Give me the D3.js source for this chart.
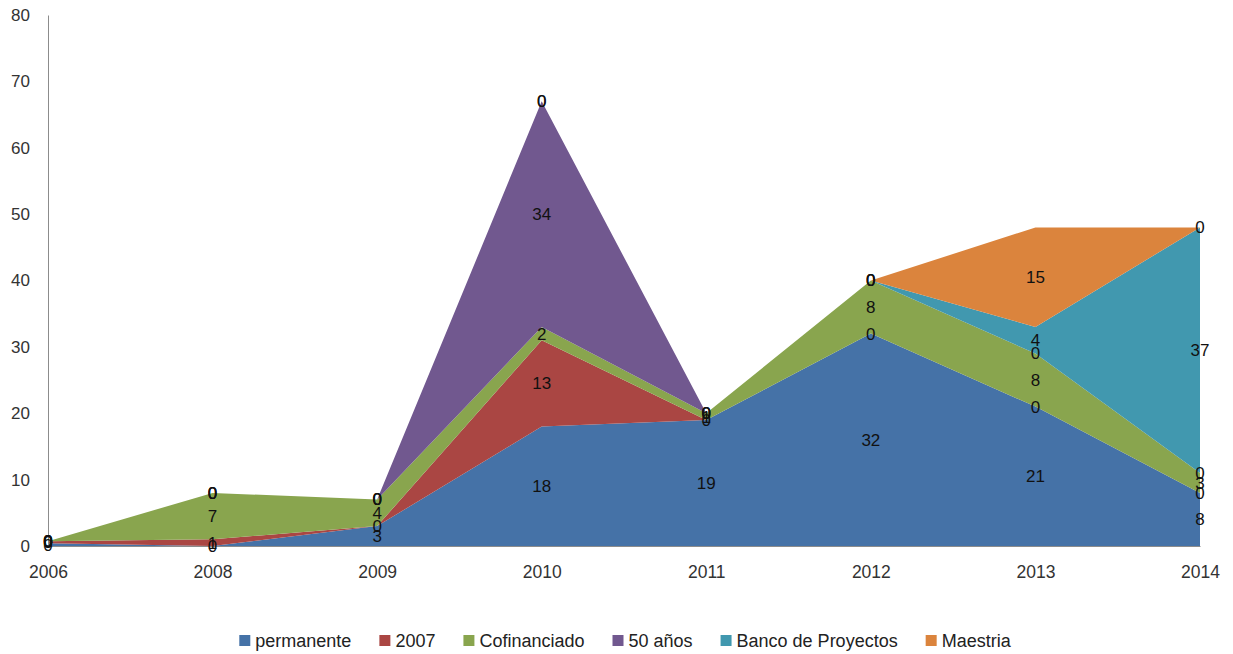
<!DOCTYPE html>
<html>
<head>
<meta charset="utf-8">
<script src="https://cdn.jsdelivr.net/npm/d3@7"></script>
<style>
  body { margin: 0; background: #fff; }
  svg { font-family: "Liberation Sans", Arial, sans-serif; }
</style>
</head>
<body>
<div id="chart"></div>
<script>
// values
var years = ["2006", "2008", "2009", "2010", "2011", "2012", "2013", "2014"];
var permanente   = [0.4, 0, 3, 18, 19, 32, 21, 8];
var anio2007     = [0.3, 1, 0, 13, 0, 0, 0, 0];
var cofinanciado = [0, 7, 4, 2, 1, 8, 8, 3];
var cincuenta    = [0, 0, 0, 34, 0, 0, 0, 0];
var banco        = [0, 0, 0, 0, 0, 0, 4, 37];
var maestria     = [0, 0, 0, 0, 0, 0, 15, 0];
var yTicks = [0, 10, 20, 30, 40, 50, 60, 70, 80];

var seriesNames = ["permanente", "2007", "Cofinanciado", "50 años", "Banco de Proyectos", "Maestria"];
var seriesValues = [permanente, anio2007, cofinanciado, cincuenta, banco, maestria];
var colors = ["#4572A7", "#AA4643", "#89A54E", "#71588F", "#4198AF", "#DB843D"];

var width = 1233, height = 654;

var table = years.map(function(y, i) {
  var row = { year: y };
  seriesNames.forEach(function(n, j) { row[n] = seriesValues[j][i]; });
  return row;
});

var stack = d3.stack().keys(seriesNames);
var layers = stack(table);

var x = d3.scalePoint()
    .domain(years)
    .range([48, 1200]);

var y = d3.scaleLinear()
    .domain([0, 80])
    .range([546, 15]);

var svg = d3.select("#chart")
    .append("svg")
    .attr("width", width)
    .attr("height", height);

var area = d3.area()
    .x(function(d) { return x(d.data.year); })
    .y0(function(d) { return y(d[0]); })
    .y1(function(d) { return y(d[1]); });

svg.selectAll(".layer")
    .data(layers)
    .enter()
    .append("path")
    .attr("class", "layer")
    .attr("d", area)
    .style("fill", function(d, i) { return colors[i]; })
    .style("stroke", "none");

// axes
var yAxis = svg.append("g")
    .attr("transform", "translate(48,0)")
    .call(d3.axisLeft(y).tickValues(yTicks).tickSize(0).tickPadding(18));
yAxis.select(".domain").attr("stroke", "#8c8c8c");
yAxis.selectAll("text")
    .attr("font-size", 17)
    .attr("fill", "#333");

var xAxis = svg.append("g")
    .attr("transform", "translate(0,546)")
    .call(d3.axisBottom(x).tickSize(0).tickPadding(20));
xAxis.select(".domain").attr("stroke", "#8c8c8c");
xAxis.selectAll("text")
    .attr("font-size", 17.5)
    .attr("fill", "#333");

// data labels at the middle of each band
var fmt = d3.format(".0f");
layers.forEach(function(layer) {
  svg.append("g")
      .selectAll("text")
      .data(layer)
      .enter()
      .append("text")
      .attr("x", function(d) { return x(d.data.year); })
      .attr("y", function(d) { return y((d[0] + d[1]) / 2); })
      .attr("dy", "0.35em")
      .attr("text-anchor", "middle")
      .attr("font-size", 17)
      .attr("fill", "#111")
      .text(function(d) { return fmt(d[1] - d[0]); });
});

// legend
var legend = svg.append("g").attr("class", "legend");
var items = legend.selectAll("g")
    .data(seriesNames)
    .enter()
    .append("g");

items.append("rect")
    .attr("width", 11)
    .attr("height", 11)
    .attr("y", -6)
    .style("fill", function(d, i) { return colors[i]; });

items.append("text")
    .attr("x", 16)
    .attr("dy", "0.35em")
    .attr("font-size", 18)
    .attr("fill", "#222")
    .text(function(d) { return d; });

var pos = 0;
items.each(function() {
  var g = d3.select(this);
  g.attr("transform", "translate(" + pos + ",0)");
  pos += 16 + g.select("text").node().getComputedTextLength() + 28;
});
var total = pos - 28;
legend.attr("transform", "translate(" + (625 - total / 2) + ",641)");
</script>
</body>
</html>
